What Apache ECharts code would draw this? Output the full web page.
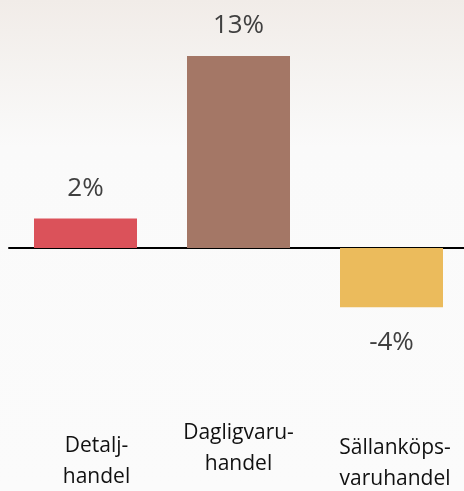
<!DOCTYPE html>
<html>
<head>
<meta charset="utf-8">
<script src="https://cdn.jsdelivr.net/npm/echarts@6/dist/echarts.min.js"></script>
<style>
  html, body { margin: 0; padding: 0; }
  #chart { width: 464px; height: 491px; }
</style>
</head>
<body>
<div id="chart"></div>
<script>
// 数据
const categories = ['Detalj-\nhandel', 'Dagligvaru-\nhandel', 'Sällanköps-\nvaruhandel']
const values = [2, 13, -4]
const barColors = ['#db525a', '#a47766', '#ebbb5c']

const chart = echarts.init(document.getElementById('chart'))

// 每个类目标签的位置微调
const labelPads = [[13, 0, 0, 22], [0, 0, 0, 0], [15, 0, 0, 7]]

const option = {
  backgroundColor: new echarts.graphic.LinearGradient(0, 0, 0, 1, [
    { offset: 0, color: '#f1ece8' },
    { offset: 0.3, color: '#fafafa' },
    { offset: 1, color: '#fbfbfb' }
  ]),
  grid: {
    left: 9,
    width: 459,
    top: 26.5,
    height: 295.4,
    containLabel: false,
    outerBoundsMode: 'none'
  },
  xAxis: [
    {
      type: 'category',
      data: categories,
      axisLine: { onZero: true, lineStyle: { color: '#000', width: 2 } },
      axisTick: { show: false },
      axisLabel: { show: false }
    },
    {
      type: 'category',
      position: 'bottom',
      data: categories.map((c, i) => ({
        value: c,
        textStyle: { padding: labelPads[i] }
      })),
      axisLine: { show: false, onZero: false },
      axisTick: { show: false },
      axisLabel: {
        margin: 96,
        interval: 0,
        color: '#111',
        fontFamily: 'Open Sans',
        fontSize: 21,
        lineHeight: 31
      }
    }
  ],
  yAxis: {
    type: 'value',
    min: -5,
    max: 15,
    show: false,
    splitLine: { show: false }
  },
  series: [
    {
      type: 'bar',
      xAxisIndex: 0,
      barWidth: 103,
      data: values.map((v, i) => ({
        value: v,
        itemStyle: { color: barColors[i] },
        label: {
          position: v < 0 ? 'bottom' : 'top',
          distance: v < 0 ? 22 : 17
        }
      })),
      label: {
        show: true,
        formatter: '{c}%',
        color: '#404040',
        fontFamily: 'Open Sans',
        fontSize: 26
      }
    }
  ]
}
chart.setOption(option)
</script>
</body>
</html>
